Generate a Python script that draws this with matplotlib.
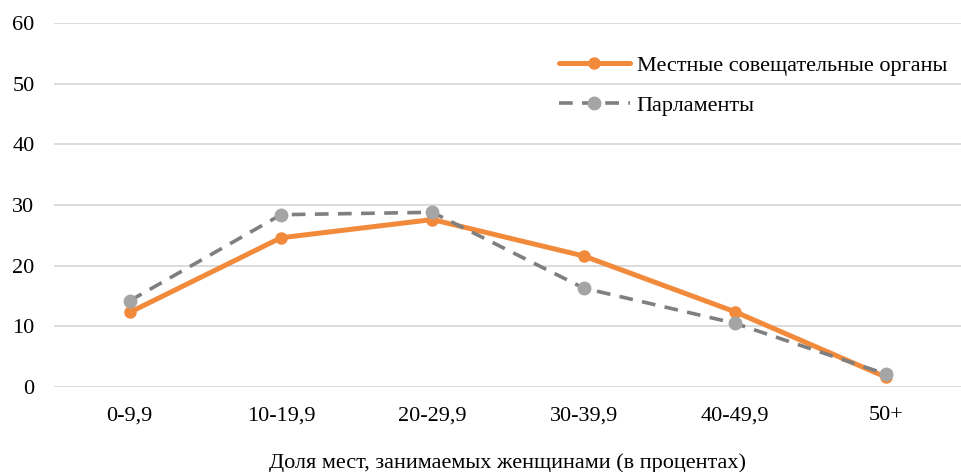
import matplotlib
matplotlib.use("Agg")
import matplotlib.pyplot as plt

categories = ["0-9,9", "10-19,9", "20-29,9", "30-39,9", "40-49,9", "50+"]
local_bodies = [12.3, 24.6, 27.6, 21.6, 12.4, 1.6]
parliaments = [14.2, 28.4, 28.8, 16.3, 10.5, 2.1]
series_names = ["Местные совещательные органы", "Парламенты"]
yticks = [0, 10, 20, 30, 40, 50, 60]
xlabel = "Доля мест, занимаемых женщинами (в процентах)"

plt.rcParams['font.family'] = ['Liberation Serif', 'DejaVu Serif']

fig = plt.figure(figsize=(9.62, 4.72), dpi=100)
ax = fig.add_axes([54/962, 1-387/472, 1-54/962, (387-23)/472])

x = list(range(len(categories)))
ax.plot(x, local_bodies, color="#F28A3C", lw=3.6, marker="o", ms=8,
        markerfacecolor="#F28A3C", markeredgecolor="#F28A3C",
        label=series_names[0], zorder=3, solid_capstyle="round")
ax.plot(x, parliaments, color="#7F7F7F", lw=2.6, dashes=[3.8, 2.6],
        marker="o", ms=9, markerfacecolor="#A5A5A5", markeredgecolor="#A5A5A5",
        label=series_names[1], zorder=4)

ax.set_xlim(-0.5, len(categories) - 0.5)
ax.set_ylim(0, 60)
ax.set_yticks(yticks)
ax.set_xticks(x)
ax.set_xticklabels(categories)
ax.grid(axis="y", color="#D9D9D9", lw=1.3)
ax.set_axisbelow(True)
for s in ax.spines.values():
    s.set_visible(False)
ax.tick_params(length=0, labelsize=16, colors="#000000")
ax.tick_params(axis="y", pad=14)
ax.tick_params(axis="x", pad=14)
ax.set_xlabel(xlabel, fontsize=16, labelpad=20)

leg = ax.legend(loc="upper left", bbox_to_anchor=(0.534, 0.967), frameon=False,
                fontsize=16, handlelength=3.2, handletextpad=0.3,
                labelspacing=0.9)

fig.savefig("out.png", dpi=100)
